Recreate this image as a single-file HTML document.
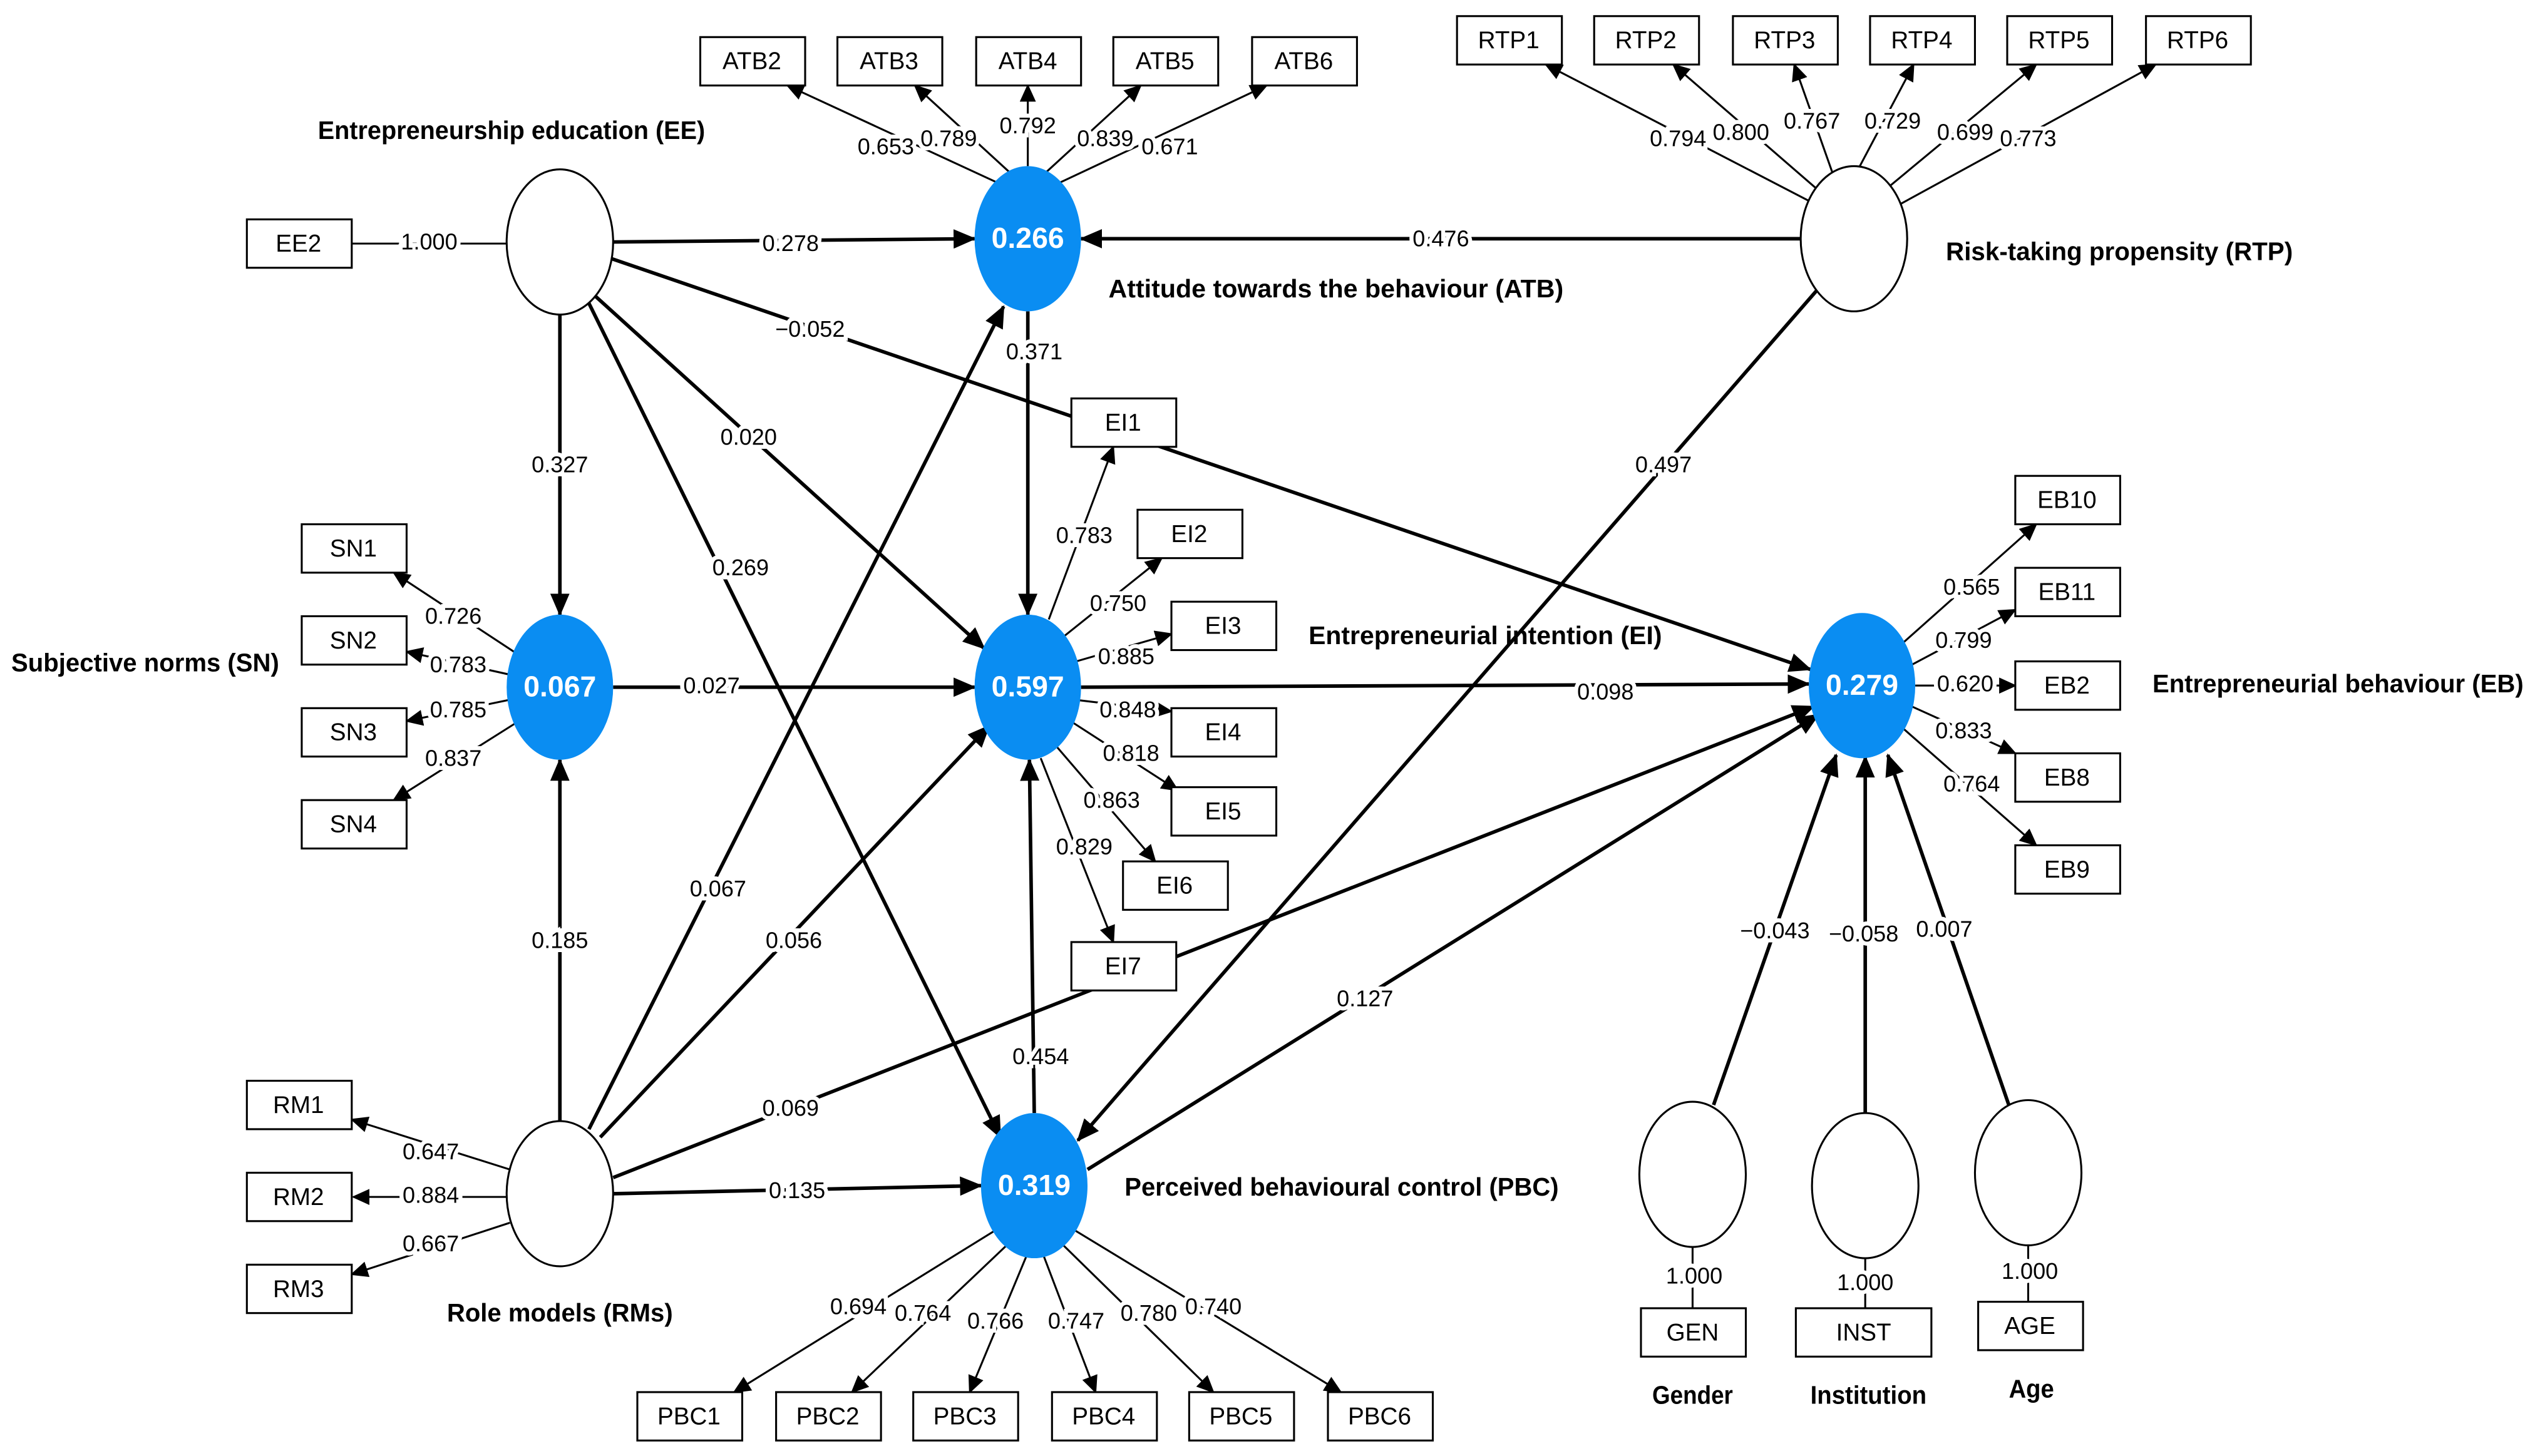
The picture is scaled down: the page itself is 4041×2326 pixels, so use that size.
<!DOCTYPE html>
<html><head><meta charset="utf-8"><style>
html,body{margin:0;padding:0;background:#fff;}
svg{display:block;}
text{font-family:"Liberation Sans",sans-serif;}
.n{font-size:14px;text-anchor:middle;dominant-baseline:middle;paint-order:stroke;stroke:#fff;stroke-width:5px;fill:#000;}
.b{font-size:16px;font-weight:bold;dominant-baseline:middle;}
.bx{fill:#fff;stroke:#000;stroke-width:1.2;}
.bt{font-size:15px;text-anchor:middle;dominant-baseline:middle;}
.l{stroke:#000;stroke-width:2.2;fill:none;marker-end:url(#a);}
.t{stroke:#000;stroke-width:1.2;fill:none;marker-end:url(#s);}
.p{stroke:#000;stroke-width:1.2;fill:none;}
.c{fill:#0a8df2;}
.w{fill:#fff;stroke:#000;stroke-width:1.2;}
.ct{font-size:18px;font-weight:bold;fill:#fff;text-anchor:middle;dominant-baseline:middle;}
</style></head><body>
<svg width="4041" height="2326" viewBox="0 0 1568 902.6" preserveAspectRatio="none" xmlns="http://www.w3.org/2000/svg">
<defs>
<marker id="a" markerUnits="userSpaceOnUse" markerWidth="14" markerHeight="12" refX="13" refY="6" orient="auto"><path d="M0,0 L14,6 L0,12 z"/></marker>
<marker id="s" markerUnits="userSpaceOnUse" markerWidth="11" markerHeight="10" refX="10" refY="5" orient="auto"><path d="M0,0 L11,5 L0,10 z"/></marker>
</defs>

<line class="l" x1="380" y1="150" x2="604" y2="148"/>
<line class="l" x1="1116" y1="148" x2="670" y2="148"/>
<line class="l" x1="378" y1="160" x2="1122" y2="415"/>
<line class="l" x1="347" y1="195" x2="347" y2="381"/>
<line class="l" x1="365" y1="180" x2="610" y2="402"/>
<line class="l" x1="365" y1="188" x2="620" y2="705"/>
<line class="l" x1="637" y1="193" x2="637" y2="381"/>
<line class="l" x1="1126" y1="180" x2="668" y2="707"/>
<line class="l" x1="380" y1="426" x2="604" y2="426"/>
<line class="l" x1="670" y1="426" x2="1121" y2="424"/>
<line class="l" x1="347" y1="695" x2="347" y2="471"/>
<line class="l" x1="365" y1="700" x2="622" y2="190"/>
<line class="l" x1="372" y1="705" x2="613" y2="450"/>
<line class="l" x1="380" y1="730" x2="1124" y2="438"/>
<line class="l" x1="380" y1="740" x2="608" y2="735"/>
<line class="l" x1="641" y1="690" x2="638" y2="471"/>
<line class="l" x1="674" y1="725" x2="1127" y2="443"/>
<line class="l" x1="1062" y1="685" x2="1138" y2="468"/>
<line class="l" x1="1156" y1="690" x2="1156" y2="469"/>
<line class="l" x1="1245" y1="685" x2="1170" y2="468"/>

<line class="p" x1="218" y1="151" x2="314" y2="151"/>
<line class="t" x1="622" y1="115" x2="488" y2="53"/>
<line class="t" x1="627" y1="108" x2="567" y2="53"/>
<line class="t" x1="637" y1="103" x2="637" y2="53"/>
<line class="t" x1="647" y1="108" x2="707" y2="53"/>
<line class="t" x1="653" y1="115" x2="785" y2="53"/>
<line class="t" x1="1122" y1="125" x2="958" y2="40"/>
<line class="t" x1="1127" y1="118" x2="1037" y2="40"/>
<line class="t" x1="1136" y1="108" x2="1112" y2="40"/>
<line class="t" x1="1150" y1="108" x2="1186" y2="40"/>
<line class="t" x1="1168" y1="118" x2="1262" y2="40"/>
<line class="t" x1="1175" y1="128" x2="1336" y2="40"/>
<line class="t" x1="320" y1="405" x2="244" y2="355"/>
<line class="t" x1="315" y1="418" x2="252" y2="404"/>
<line class="t" x1="315" y1="434" x2="252" y2="447"/>
<line class="t" x1="320" y1="448" x2="244" y2="496"/>
<line class="t" x1="316" y1="725" x2="218" y2="694"/>
<line class="t" x1="314" y1="742" x2="219" y2="742"/>
<line class="t" x1="316" y1="758" x2="218" y2="790"/>
<line class="t" x1="650" y1="384" x2="690" y2="277"/>
<line class="t" x1="660" y1="394" x2="720" y2="346"/>
<line class="t" x1="667" y1="410" x2="726" y2="393"/>
<line class="t" x1="668" y1="434" x2="726" y2="441"/>
<line class="t" x1="665" y1="448" x2="730" y2="490"/>
<line class="t" x1="655" y1="463" x2="716" y2="534"/>
<line class="t" x1="645" y1="470" x2="690" y2="584"/>
<line class="t" x1="1180" y1="398" x2="1262" y2="325"/>
<line class="t" x1="1185" y1="412" x2="1249" y2="378"/>
<line class="t" x1="1187" y1="425" x2="1249" y2="425"/>
<line class="t" x1="1185" y1="438" x2="1249" y2="467"/>
<line class="t" x1="1180" y1="452" x2="1262" y2="524"/>
<line class="t" x1="618" y1="762" x2="455" y2="863"/>
<line class="t" x1="626" y1="770" x2="528" y2="863"/>
<line class="t" x1="636" y1="779" x2="601" y2="863"/>
<line class="t" x1="647" y1="779" x2="679" y2="863"/>
<line class="t" x1="657" y1="770" x2="752" y2="863"/>
<line class="t" x1="665" y1="762" x2="831" y2="863"/>
<line class="p" x1="1049" y1="773" x2="1049" y2="811"/>
<line class="p" x1="1156" y1="780" x2="1156" y2="811"/>
<line class="p" x1="1257" y1="772" x2="1257" y2="807"/>

<ellipse class="w" cx="347" cy="150" rx="33" ry="45"/>
<ellipse class="w" cx="1149" cy="148" rx="33" ry="45"/>
<ellipse class="w" cx="347" cy="740" rx="33" ry="45"/>
<ellipse class="w" cx="1049" cy="728" rx="33" ry="45"/>
<ellipse class="w" cx="1156" cy="735" rx="33" ry="45"/>
<ellipse class="w" cx="1257" cy="727" rx="33" ry="45"/>
<ellipse class="c" cx="637" cy="148" rx="33" ry="45"/><text class="ct" x="637" y="149">0.266</text>
<ellipse class="c" cx="637" cy="426" rx="33" ry="45"/><text class="ct" x="637" y="427">0.597</text>
<ellipse class="c" cx="641" cy="735" rx="33" ry="45"/><text class="ct" x="641" y="736">0.319</text>
<ellipse class="c" cx="347" cy="426" rx="33" ry="45"/><text class="ct" x="347" y="427">0.067</text>
<ellipse class="c" cx="1154" cy="425" rx="33" ry="45"/><text class="ct" x="1154" y="426">0.279</text>

<g>
<rect class="bx" x="434" y="23" width="65" height="30"/><text class="bt" x="466" y="39">ATB2</text>
<rect class="bx" x="519" y="23" width="65" height="30"/><text class="bt" x="551" y="39">ATB3</text>
<rect class="bx" x="605" y="23" width="65" height="30"/><text class="bt" x="637" y="39">ATB4</text>
<rect class="bx" x="690" y="23" width="65" height="30"/><text class="bt" x="722" y="39">ATB5</text>
<rect class="bx" x="776" y="23" width="65" height="30"/><text class="bt" x="808" y="39">ATB6</text>
<rect class="bx" x="903" y="10" width="65" height="30"/><text class="bt" x="935" y="26">RTP1</text>
<rect class="bx" x="988" y="10" width="65" height="30"/><text class="bt" x="1020" y="26">RTP2</text>
<rect class="bx" x="1074" y="10" width="65" height="30"/><text class="bt" x="1106" y="26">RTP3</text>
<rect class="bx" x="1159" y="10" width="65" height="30"/><text class="bt" x="1191" y="26">RTP4</text>
<rect class="bx" x="1244" y="10" width="65" height="30"/><text class="bt" x="1276" y="26">RTP5</text>
<rect class="bx" x="1330" y="10" width="65" height="30"/><text class="bt" x="1362" y="26">RTP6</text>
<rect class="bx" x="153" y="136" width="65" height="30"/><text class="bt" x="185" y="152">EE2</text>
<rect class="bx" x="187" y="325" width="65" height="30"/><text class="bt" x="219" y="341">SN1</text>
<rect class="bx" x="187" y="382" width="65" height="30"/><text class="bt" x="219" y="398">SN2</text>
<rect class="bx" x="187" y="439" width="65" height="30"/><text class="bt" x="219" y="455">SN3</text>
<rect class="bx" x="187" y="496" width="65" height="30"/><text class="bt" x="219" y="512">SN4</text>
<rect class="bx" x="153" y="670" width="65" height="30"/><text class="bt" x="185" y="686">RM1</text>
<rect class="bx" x="153" y="727" width="65" height="30"/><text class="bt" x="185" y="743">RM2</text>
<rect class="bx" x="153" y="784" width="65" height="30"/><text class="bt" x="185" y="800">RM3</text>
<rect class="bx" x="664" y="247" width="65" height="30"/><text class="bt" x="696" y="263">EI1</text>
<rect class="bx" x="705" y="316" width="65" height="30"/><text class="bt" x="737" y="332">EI2</text>
<rect class="bx" x="726" y="373" width="65" height="30"/><text class="bt" x="758" y="389">EI3</text>
<rect class="bx" x="726" y="439" width="65" height="30"/><text class="bt" x="758" y="455">EI4</text>
<rect class="bx" x="726" y="488" width="65" height="30"/><text class="bt" x="758" y="504">EI5</text>
<rect class="bx" x="696" y="534" width="65" height="30"/><text class="bt" x="728" y="550">EI6</text>
<rect class="bx" x="664" y="584" width="65" height="30"/><text class="bt" x="696" y="600">EI7</text>
<rect class="bx" x="1249" y="295" width="65" height="30"/><text class="bt" x="1281" y="311">EB10</text>
<rect class="bx" x="1249" y="352" width="65" height="30"/><text class="bt" x="1281" y="368">EB11</text>
<rect class="bx" x="1249" y="410" width="65" height="30"/><text class="bt" x="1281" y="426">EB2</text>
<rect class="bx" x="1249" y="467" width="65" height="30"/><text class="bt" x="1281" y="483">EB8</text>
<rect class="bx" x="1249" y="524" width="65" height="30"/><text class="bt" x="1281" y="540">EB9</text>
<rect class="bx" x="395" y="863" width="65" height="30"/><text class="bt" x="427" y="879">PBC1</text>
<rect class="bx" x="481" y="863" width="65" height="30"/><text class="bt" x="513" y="879">PBC2</text>
<rect class="bx" x="566" y="863" width="65" height="30"/><text class="bt" x="598" y="879">PBC3</text>
<rect class="bx" x="652" y="863" width="65" height="30"/><text class="bt" x="684" y="879">PBC4</text>
<rect class="bx" x="737" y="863" width="65" height="30"/><text class="bt" x="769" y="879">PBC5</text>
<rect class="bx" x="823" y="863" width="65" height="30"/><text class="bt" x="855" y="879">PBC6</text>
<rect class="bx" x="1017" y="811" width="65" height="30"/><text class="bt" x="1049" y="827">GEN</text>
<rect class="bx" x="1113" y="811" width="84" height="30"/><text class="bt" x="1155" y="827">INST</text>
<rect class="bx" x="1226" y="807" width="65" height="30"/><text class="bt" x="1258" y="823">AGE</text>
</g>

<g>
<text class="n" x="490" y="152">0.278</text>
<text class="n" x="893" y="149">0.476</text>
<text class="n" x="502" y="205">−0.052</text>
<text class="n" x="347" y="289">0.327</text>
<text class="n" x="464" y="272">0.020</text>
<text class="n" x="459" y="353">0.269</text>
<text class="n" x="641" y="219">0.371</text>
<text class="n" x="1031" y="289">0.497</text>
<text class="n" x="441" y="426">0.027</text>
<text class="n" x="995" y="430">0.098</text>
<text class="n" x="347" y="584">0.185</text>
<text class="n" x="445" y="552">0.067</text>
<text class="n" x="492" y="584">0.056</text>
<text class="n" x="490" y="688">0.069</text>
<text class="n" x="494" y="739">0.135</text>
<text class="n" x="645" y="656">0.454</text>
<text class="n" x="846" y="620">0.127</text>
<text class="n" x="1100" y="578">−0.043</text>
<text class="n" x="1155" y="580">−0.058</text>
<text class="n" x="1205" y="577">0.007</text>
<text class="n" x="266" y="151">1.000</text>
<text class="n" x="549" y="92">0.653</text>
<text class="n" x="588" y="87">0.789</text>
<text class="n" x="637" y="79">0.792</text>
<text class="n" x="685" y="87">0.839</text>
<text class="n" x="725" y="92">0.671</text>
<text class="n" x="1040" y="87">0.794</text>
<text class="n" x="1079" y="83">0.800</text>
<text class="n" x="1123" y="76">0.767</text>
<text class="n" x="1173" y="76">0.729</text>
<text class="n" x="1218" y="83">0.699</text>
<text class="n" x="1257" y="87">0.773</text>
<text class="n" x="281" y="383">0.726</text>
<text class="n" x="284" y="413">0.783</text>
<text class="n" x="284" y="441">0.785</text>
<text class="n" x="281" y="471">0.837</text>
<text class="n" x="267" y="715">0.647</text>
<text class="n" x="267" y="742">0.884</text>
<text class="n" x="267" y="772">0.667</text>
<text class="n" x="672" y="333">0.783</text>
<text class="n" x="693" y="375">0.750</text>
<text class="n" x="698" y="408">0.885</text>
<text class="n" x="699" y="441">0.848</text>
<text class="n" x="701" y="468">0.818</text>
<text class="n" x="689" y="497">0.863</text>
<text class="n" x="672" y="526">0.829</text>
<text class="n" x="1222" y="365">0.565</text>
<text class="n" x="1217" y="398">0.799</text>
<text class="n" x="1218" y="425">0.620</text>
<text class="n" x="1217" y="454">0.833</text>
<text class="n" x="1222" y="487">0.764</text>
<text class="n" x="532" y="811">0.694</text>
<text class="n" x="572" y="815">0.764</text>
<text class="n" x="617" y="820">0.766</text>
<text class="n" x="667" y="820">0.747</text>
<text class="n" x="712" y="815">0.780</text>
<text class="n" x="752" y="811">0.740</text>
<text class="n" x="1050" y="792">1.000</text>
<text class="n" x="1156" y="796">1.000</text>
<text class="n" x="1258" y="789">1.000</text>
</g>

<g>
<text class="b" x="197" y="82" textLength="240" lengthAdjust="spacingAndGlyphs">Entrepreneurship education (EE)</text>
<text class="b" x="687" y="180" textLength="282" lengthAdjust="spacingAndGlyphs">Attitude towards the behaviour (ATB)</text>
<text class="b" x="1206" y="157" textLength="215" lengthAdjust="spacingAndGlyphs">Risk-taking propensity (RTP)</text>
<text class="b" x="7" y="412" textLength="166" lengthAdjust="spacingAndGlyphs">Subjective norms (SN)</text>
<text class="b" x="811" y="395" textLength="219" lengthAdjust="spacingAndGlyphs">Entrepreneurial intention (EI)</text>
<text class="b" x="1334" y="425" textLength="230" lengthAdjust="spacingAndGlyphs">Entrepreneurial behaviour (EB)</text>
<text class="b" x="697" y="737" textLength="269" lengthAdjust="spacingAndGlyphs">Perceived behavioural control (PBC)</text>
<text class="b" x="277" y="815" textLength="140" lengthAdjust="spacingAndGlyphs">Role models (RMs)</text>
<text class="b" x="1024" y="866" textLength="50" lengthAdjust="spacingAndGlyphs">Gender</text>
<text class="b" x="1122" y="866" textLength="72" lengthAdjust="spacingAndGlyphs">Institution</text>
<text class="b" x="1245" y="862" textLength="28" lengthAdjust="spacingAndGlyphs">Age</text>
</g>
</svg>
</body></html>
